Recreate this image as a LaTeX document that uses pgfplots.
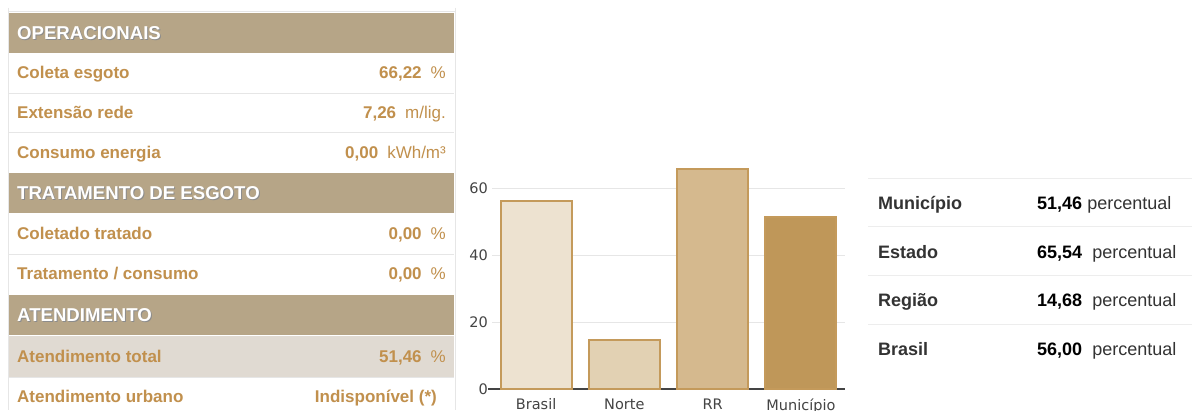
\documentclass[border=0pt]{standalone}
\usepackage{pgfplots}
\pgfplotsset{compat=1.18}
\usepackage{fontspec}
\setmainfont{Liberation Sans}
\newfontfamily\dejavu{DejaVu Sans}
\definecolor{hdr}{HTML}{B6A587}
\definecolor{gold}{HTML}{C1904D}
\definecolor{rowgray}{HTML}{E0DAD2}
\definecolor{sep}{HTML}{E6E6E6}
\definecolor{edge}{HTML}{C49A5B}
\definecolor{cA}{HTML}{EDE2D0}
\definecolor{cB}{HTML}{E2D1B3}
\definecolor{cC}{HTML}{D5B98E}
\definecolor{cD}{HTML}{BF9759}
\definecolor{dk}{HTML}{333333}
\definecolor{tk}{HTML}{444444}
\newcommand{\tkfont}{\dejavu\fontsize{14.5}{16}\selectfont}
\newcommand{\lab}[2]{\node[anchor=base west,inner sep=0pt,text=gold,font=\fontsize{17}{20}\selectfont\bfseries] at (17,#1+6) {#2};}
\newcommand{\val}[3]{\node[anchor=base east,inner sep=0pt,text=gold,font=\fontsize{17}{20}\selectfont] at (446,#1+6) {\textbf{#2}\hspace{9pt}#3};}
\newcommand{\hd}[2]{\fill[hdr] (9,#1) rectangle (454,#1+40);
  \node[anchor=base west,inner sep=0pt,text=black!45,font=\fontsize{18.6}{20}\selectfont\bfseries] at (18,#1+20+7.5) {#2};
  \node[anchor=base west,inner sep=0pt,text=white,font=\fontsize{18.6}{20}\selectfont\bfseries] at (17,#1+20+6.5) {#2};}
\newcommand{\rt}[4]{\node[anchor=base west,inner sep=0pt,text=dk,font=\fontsize{18}{20}\selectfont\bfseries] at (878,#1+6.5) {#2};
  \node[anchor=base west,inner sep=0pt,text=dk,font=\fontsize{18}{20}\selectfont] at (1037,#1+6.5) {\textcolor{black}{\bfseries #3}\hspace{#4}percentual};}
\begin{document}
\begin{tikzpicture}
\useasboundingbox (0pt,0pt) rectangle (1192pt,410pt);
\fill[white] (0pt,0pt) rectangle (1192pt,410pt);
\clip (0pt,0pt) rectangle (1192pt,410pt);
\begin{scope}[x=1pt,y=-1pt,shift={(0pt,410pt)}]
% left table
\draw[sep,line width=1pt] (8,8) -- (8,410);
\draw[sep,line width=1pt] (455,8) -- (455,410);
\draw[sep,line width=1pt] (8,12) -- (455,12);
\fill[rowgray] (9,336) rectangle (454,377);
\foreach \yy in {94,133,255,377} {\draw[sep,line width=1pt] (9,\yy) -- (454,\yy);}
\hd{13}{OPERACIONAIS}
\hd{173}{TRATAMENTO DE ESGOTO}
\hd{295}{ATENDIMENTO}
\lab{73}{Coleta esgoto}\val{73}{66,22}{\%}
\lab{113}{Extensão rede}\val{113}{7,26}{m/lig.}
\lab{153}{Consumo energia}\val{153}{0,00}{kWh/m³}
\lab{234}{Coletado tratado}\val{234}{0,00}{\%}
\lab{274}{Tratamento / consumo}\val{274}{0,00}{\%}
\lab{356}{Atendimento total}\val{356}{51,46}{\%}
\lab{396}{Atendimento urbano}
\node[anchor=base east,inner sep=0pt,text=gold,font=\fontsize{17}{20}\selectfont\bfseries] at (437,402) {Indisponível (*)};
% right table
\foreach \yy in {179,227,276,325} {\draw[sep!70,line width=1pt] (868,\yy) -- (1192,\yy);}
\rt{203}{Município}{51,46}{5pt}
\rt{252}{Estado}{65,54}{10pt}
\rt{300}{Região}{14,68}{10pt}
\rt{349}{Brasil}{56,00}{10pt}
\end{scope}
% chart
\begin{axis}[at={(492pt,21pt)},anchor=south west,
  scale only axis,width=353pt,height=234.5pt,
  xmin=-0.5,xmax=3.5,ymin=0,ymax=70,
  xtick={0,1,2,3},xticklabels={Brasil,Norte,RR,Município},
  ytick={0,20,40,60},
  /pgf/number format/assume math mode=true,
  ymajorgrids,grid style={color=sep,line width=1pt},
  axis line style={draw=none},tick style={draw=none},
  every tick label/.append style={font=\tkfont,text=tk},
  yticklabel style={font=\tkfont,anchor=east,inner sep=0pt,xshift=-4pt},
  xticklabel style={font=\tkfont,anchor=north,inner sep=0pt,yshift=-5pt},
  ybar,bar width=71pt,
  clip=false]
\draw[tk,line width=1.8pt] (axis cs:-0.545,0) -- (axis cs:3.5,0);
\addplot[ybar,bar shift=0pt,fill=cA,draw=edge,line width=2pt] coordinates {(0,56.00)};
\addplot[ybar,bar shift=0pt,fill=cB,draw=edge,line width=2pt] coordinates {(1,14.68)};
\addplot[ybar,bar shift=0pt,fill=cC,draw=edge,line width=2pt] coordinates {(2,65.54)};
\addplot[ybar,bar shift=0pt,fill=cD,draw=edge,line width=2pt] coordinates {(3,51.46)};
\end{axis}
\end{tikzpicture}
\end{document}
